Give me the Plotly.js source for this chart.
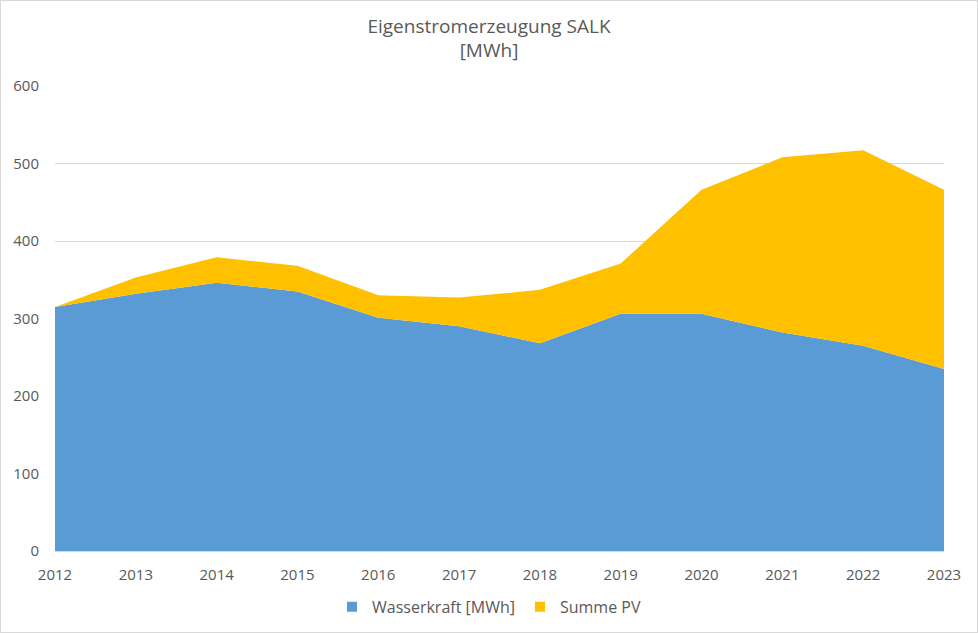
<!DOCTYPE html>
<html>
<head>
<meta charset="utf-8">
<script src="https://cdn.plot.ly/plotly-3.0.1.min.js"></script>
<style>
html,body{margin:0;padding:0;background:#fff;}
#chart{width:976px;height:631px;border:1px solid #d9d9d9;}
</style>
</head>
<body>
<div id="chart"></div>
<script>
const years = [2012, 2013, 2014, 2015, 2016, 2017, 2018, 2019, 2020, 2021, 2022, 2023];
const wasserkraft = [315, 332, 346, 335, 301, 290, 268, 306, 306, 282, 265, 235];
const summePV = [0, 21, 33, 33, 29, 37, 69, 65, 160, 226, 252, 231];
const yTicks = [0, 100, 200, 300, 400, 500, 600];
const seriesNames = ['Wasserkraft [MWh]', 'Summe PV'];
const seriesColors = ['#5b9bd5', '#ffc000'];

const fam = 'Open Sans, Liberation Sans, sans-serif';
const tickFont = {family: fam, color: '#595959', size: 15};

const traces = [
  {x: years, y: wasserkraft, name: seriesNames[0], type: 'scatter', mode: 'lines',
   stackgroup: 'one', line: {width: 0}, fillcolor: seriesColors[0], showlegend: false},
  {x: years, y: summePV, name: seriesNames[1], type: 'scatter', mode: 'lines',
   stackgroup: 'one', line: {width: 0}, fillcolor: seriesColors[1], showlegend: false},
  // legend-only entries with square swatches
  {x: [null], y: [null], name: seriesNames[0], type: 'scatter', mode: 'markers',
   marker: {symbol: 'square', size: 10, color: seriesColors[0]}, showlegend: true},
  {x: [null], y: [null], name: seriesNames[1], type: 'scatter', mode: 'markers',
   marker: {symbol: 'square', size: 10, color: seriesColors[1]}, showlegend: true}
];

const layout = {
  width: 976, height: 631,
  margin: {l: 54, r: 33, t: 85, b: 81},
  paper_bgcolor: '#ffffff', plot_bgcolor: '#ffffff',
  font: {family: fam, color: '#595959', size: 15},
  title: {text: 'Eigenstromerzeugung SALK<br>[MWh]', x: 0.5, xref: 'container', xanchor: 'center',
          y: 0.95, yref: 'container', yanchor: 'top', font: {family: fam, size: 19, color: '#595959'}},
  xaxis: {range: [2012, 2023], tickvals: years, ticktext: years.map(String), showgrid: false,
          zeroline: false, showline: true, linecolor: '#d9d9d9', linewidth: 1, ticks: '',
          ticklabelstandoff: 10, tickfont: tickFont, fixedrange: true},
  yaxis: {range: [0, 600], tickvals: yTicks, showgrid: true, gridcolor: '#d9d9d9', gridwidth: 1,
          zeroline: false, showline: false, ticks: '', ticklabelstandoff: 15, tickfont: tickFont, fixedrange: true},
  legend: {orientation: 'h', x: 0.5, xanchor: 'center', xref: 'container', y: 0.04, yref: 'container', yanchor: 'middle',
           font: {family: fam, size: 16, color: '#595959'}, traceorder: 'normal', itemwidth: 30, tracegroupgap: 0},
  showlegend: true
};

Plotly.newPlot('chart', traces, layout, {displayModeBar: false, staticPlot: true});
</script>
</body>
</html>
